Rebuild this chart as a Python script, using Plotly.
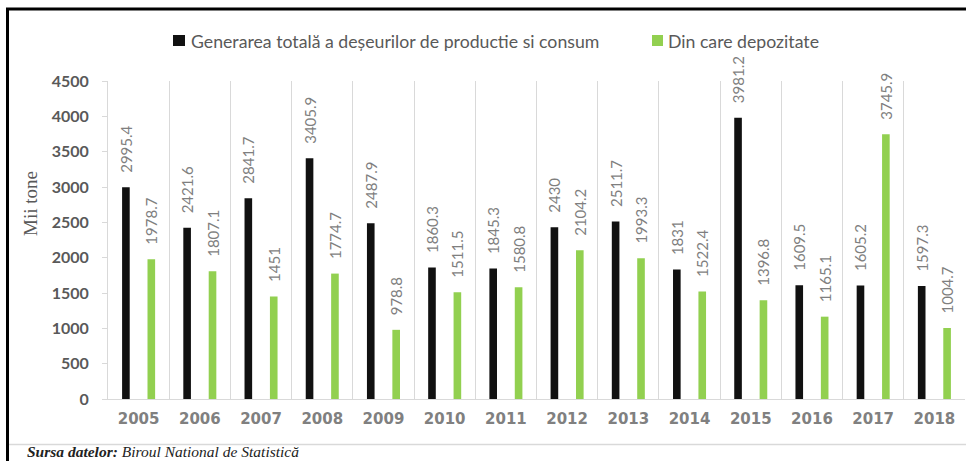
import plotly.graph_objects as go

years = ["2005", "2006", "2007", "2008", "2009", "2010", "2011",
         "2012", "2013", "2014", "2015", "2016", "2017", "2018"]
total_generated = [2995.4, 2421.6, 2841.7, 3405.9, 2487.9, 1860.3, 1845.3,
                   2430, 2511.7, 1831, 3981.2, 1609.5, 1605.2, 1597.3]
deposited = [1978.7, 1807.1, 1451, 1774.7, 978.8, 1511.5, 1580.8,
             2104.2, 1993.3, 1522.4, 1396.8, 1165.1, 3745.9, 1004.7]
series_names = ["Generarea totală a deșeurilor de productie si consum",
                "Din care depozitate"]
y_ticks = [0, 500, 1000, 1500, 2000, 2500, 3000, 3500, 4000, 4500]

W, H = 966, 461
ML, MR, MT, MB = 108, 1, 81, 62
PW = W - ML - MR
PH = H - MT - MB


def px(x):
    return (x - ML) / PW


def py(y):
    return (H - MB - y) / PH


BLACK = "#111111"
GREEN = "#92D050"
LABEL = "#7f7f7f"
NB = "\u00a0\u00a0\u00a0"

fig = go.Figure()
for vals, color, name in [(total_generated, BLACK, series_names[0]),
                          (deposited, GREEN, series_names[1])]:
    fig.add_trace(go.Bar(
        x=years, y=vals, name=name, marker=dict(color=color, line=dict(width=0)),
        text=[NB + f"{v:g}" for v in vals], textposition="outside",
        textangle=-90, constraintext="none", cliponaxis=False,
        textfont=dict(family="Lato", size=15, color=LABEL),
        showlegend=False,
    ))

fig.update_layout(
    width=W, height=H,
    margin=dict(l=ML, r=MR, t=MT, b=MB, pad=0),
    paper_bgcolor="white", plot_bgcolor="white",
    barmode="group", bargap=0.17, bargroupgap=0.70,
    xaxis=dict(
        type="category", tickson="boundaries", showgrid=True,
        gridcolor="#d9d9d9", gridwidth=1, showline=True, linecolor="#d9d9d9",
        linewidth=1, ticks="", zeroline=False,
        tickfont=dict(family="DejaVu Sans", size=15, color="#808080", weight="bold"),
        ticklabelstandoff=6,
    ),
    yaxis=dict(
        range=[0, 4500], tickvals=y_ticks, showgrid=False, zeroline=False,
        showline=True, linecolor="#d9d9d9", linewidth=1,
        ticks="outside", ticklen=5, tickcolor="#d9d9d9",
        tickfont=dict(family="Lato", size=16, color="#595959", weight="bold"),
        ticklabelstandoff=10,
    ),
    font=dict(family="Lato", color="#595959"),
)

# Legend (keys + labels)
legend_items = [(173, 185, 189, BLACK, series_names[0]),
                (652, 663, 666, GREEN, series_names[1])]
for x0, x1, tx, color, name in legend_items:
    fig.add_shape(type="rect", xref="paper", yref="paper",
                  x0=px(x0), x1=px(x1), y0=py(46), y1=py(35),
                  fillcolor=color, line=dict(width=0))
    fig.add_annotation(xref="paper", yref="paper", x=px(tx), y=py(41),
                       xanchor="left", yanchor="middle", showarrow=False,
                       text=name, font=dict(family="Lato", size=17.7, color="#595959"))

# Y axis title
fig.add_annotation(xref="paper", yref="paper", x=px(30), y=py(204),
                   xanchor="center", yanchor="middle", showarrow=False,
                   textangle=-90, text="Mii tone",
                   font=dict(family="Liberation Serif", size=19, color="#595959"))

# Frame lines of the excerpt
fig.add_shape(type="line", xref="paper", yref="paper",
              x0=px(6), x1=px(966), y0=py(9), y1=py(9),
              line=dict(color="black", width=3))
fig.add_shape(type="line", xref="paper", yref="paper",
              x0=px(7.5), x1=px(7.5), y0=py(8), y1=py(461),
              line=dict(color="black", width=3))
fig.add_shape(type="line", xref="paper", yref="paper",
              x0=px(9), x1=px(966), y0=py(444.5), y1=py(444.5),
              line=dict(color="#d9d9d9", width=1.5))

# Source note
fig.add_annotation(xref="paper", yref="paper", x=px(25), y=py(462),
                   xanchor="left", yanchor="bottom", showarrow=False,
                   text="<b><i>Sursa datelor:</i></b><i> Biroul National de Statistică</i>",
                   font=dict(family="Liberation Serif", size=15.5, color="#222222"))

fig.write_html(
    "out.html",
    config={"displayModeBar": False},
    post_script="document.body.style.margin='0';document.body.style.overflow='hidden';",
)
